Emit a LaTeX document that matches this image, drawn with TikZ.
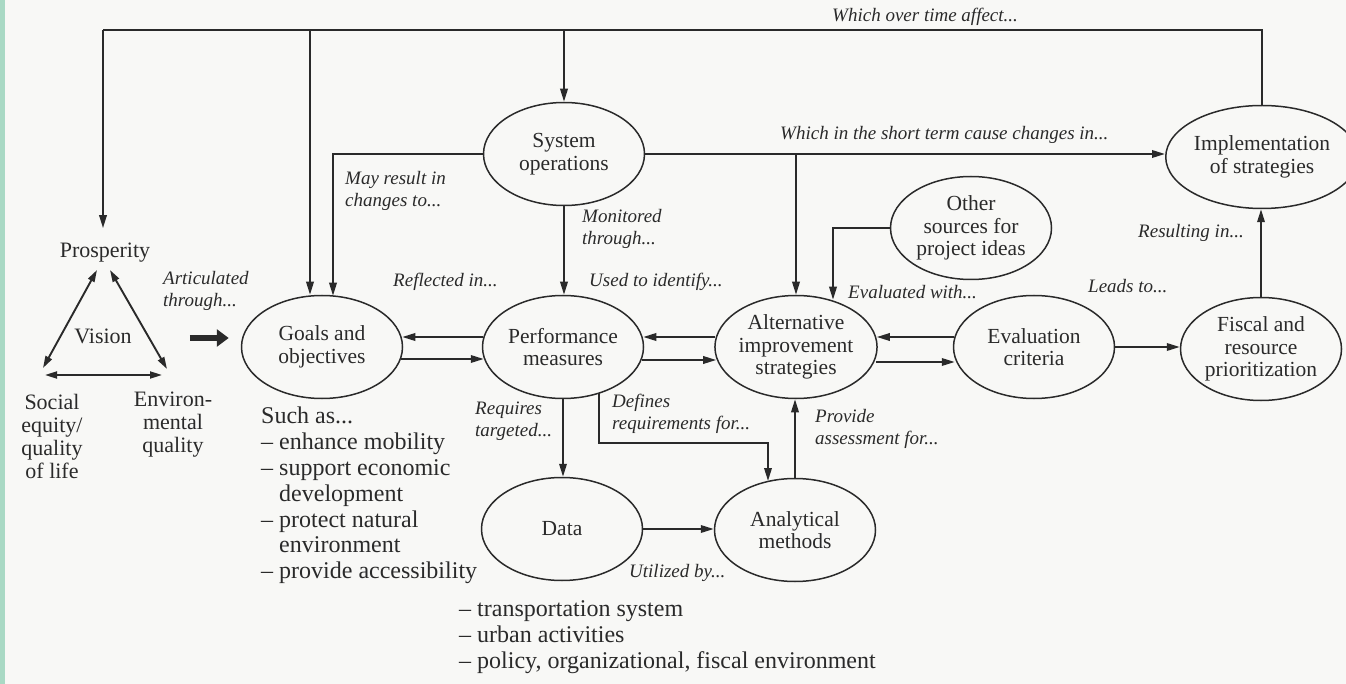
\documentclass[tikz,border=0pt]{standalone}
\usepackage{fontspec}
\setmainfont{Liberation Serif}
\usetikzlibrary{shapes.geometric,arrows.meta,calc}
\definecolor{ink}{HTML}{2A2A2A}
\definecolor{paper}{HTML}{F8F8F6}
\definecolor{mint}{HTML}{A9D9C4}
\begin{document}
\begin{tikzpicture}[x=1pt,y=-1pt,
  oval/.style={draw=ink, line width=1.5pt, ellipse, minimum width=161pt, minimum height=103pt,
    inner sep=0pt, align=center, text=ink, font=\fontsize{21.5}{22.5}\selectfont},
  lbl/.style={anchor=west, inner sep=0pt, align=left, text=ink, font=\fontsize{19}{22}\selectfont\itshape},
  txt/.style={inner sep=0pt, align=center, text=ink, font=\fontsize{22}{23}\selectfont},
  lst/.style={anchor=west, inner sep=0pt, align=left, text=ink, font=\fontsize{24}{25.8}\selectfont},
  ln/.style={draw=ink, line width=1.9pt},
  arr/.style={ln, -{Triangle[length=13pt,width=7.5pt]}},
  dbl/.style={ln, {Triangle[length=12pt,width=7pt]}-{Triangle[length=12pt,width=7pt]}},
]
\fill[paper] (0,0) rectangle (1346,684);
\fill[mint] (0,0) rectangle (5,684);
\useasboundingbox (0,0) rectangle (1346,684);

% ellipses
\node[oval] (sysop)  at (564,154) {System\\operations};
\node[oval] (goals)  at (322,347) {Goals and\\objectives};
\node[oval] (perf)   at (563,347) {Performance\\measures};
\node[oval] (alt)    at (796,347) {Alternative\\improvement\\strategies};
\node[oval] (eval)   at (1034,347) {Evaluation\\criteria};
\node[oval] (fiscal) at (1261,349) {Fiscal and\\resource\\prioritization};
\node[oval] (impl)   at (1262,157) {Implementation\\of strategies};
\node[oval] (other)  at (971,228) {Other\\sources for\\project ideas};
\node[oval] (data)   at (562,529) {Data};
\node[oval] (anal)   at (795,530) {Analytical\\methods};

% vision triangle
\node[txt] (prosp)  at (105,253) {Prosperity};
\node[txt] (vision) at (103,336) {Vision};
\node[txt] (social) at (52,436) {Social\\equity/\\quality\\of life};
\node[txt] (env)    at (173,425) {Environ-\\mental\\quality};
\draw[dbl] ($(prosp)+(-8,17)$) -- ($(social)+(-9,-68)$);
\draw[dbl] ($(prosp)+(5,17)$) -- ($(env)+(-6,-56)$);
\draw[dbl] ($(social)+(-7,-61)$) -- ($(env)+(-11,-50)$);

% lists
\node[lst] (such) at (261,495.5) {Such as...\\
– enhance mobility\\
– support economic\\
\phantom{– }development\\
– protect natural\\
\phantom{– }environment\\
– provide accessibility};
\node[lst] (dlist) at (459,637) {– transportation system\\
– urban activities\\
– policy, organizational, fiscal environment};

% top feedback loop
\coordinate (tl) at (103,30);
\coordinate (tr) at (impl.north |- tl);
\coordinate (g1) at (310,30);
\draw[ln] (impl.north) -- (tr) -- (tl);
\draw[arr, shorten >=15pt] (tl) -- (prosp.north -| tl);
\draw[arr] (g1) -- (g1 |- goals.north);
\draw[arr] (sysop.north |- tl) -- (sysop.north);

% system operations links
\draw[arr] (sysop.west) -| ($(goals.north)+(11,1)$);
\draw[arr] (sysop.east) -- (sysop.east -| impl.west);
\draw[arr] (alt.north |- sysop.east) -- (alt.north);
\draw[arr] (sysop.south) -- (sysop.south |- perf.north);
\draw[arr] (other.west) -| ($(alt.north)+(37,5)$);
\draw[arr] (fiscal.north) -- (fiscal.north |- impl.south);

% middle row
\draw[line width=6pt, draw=ink, -{Triangle[length=12pt,width=17pt]}] ($(goals.west)+(-51,-9)$) -- ($(goals.west)+(-12,-9)$);
\draw[arr] ($(perf.west)+(1,-10)$) -- ($(goals.east)+(-1,-10)$);
\draw[arr] ($(goals.east)+(-2,12)$) -- ($(perf.west)+(2,12)$);
\draw[arr] ($(alt.west)+(1,-10)$) -- ($(perf.east)+(-1,-10)$);
\draw[arr] ($(perf.east)+(-2,13)$) -- ($(alt.west)+(2,13)$);
\draw[arr] ($(eval.west)+(1,-10)$) -- ($(alt.east)+(-1,-10)$);
\draw[arr] ($(alt.east)+(-2,15)$) -- ($(eval.west)+(2,15)$);
\draw[arr] (eval.east) -- (eval.east -| fiscal.west);

% lower part
\draw[arr] (perf.south) -- (perf.south |- data.north);
\draw[arr] ($(perf.center)+(36,46)$) -- ++(0,50) -| ($(anal.center)+(-27,-49)$);
\draw[arr] (anal.north) -- (anal.north |- alt.south);
\draw[arr] (data.east) -- (data.east -| anal.west);

% labels
\node[lbl] (l1)  at (832,17)  {Which over time affect...};
\node[lbl] (l2)  at (780,135) {Which in the short term cause changes in...};
\node[lbl] (l3)  at (345,191) {May result in\\changes to...};
\node[lbl] (l4)  at (582,229) {Monitored\\through...};
\node[lbl] (l5)  at (163,291) {Articulated\\through...};
\node[lbl] (l6)  at (393,282) {Reflected in...};
\node[lbl] (l7)  at (589,282) {Used to identify...};
\node[lbl] (l8)  at (848,292) {Evaluated with...};
\node[lbl] (l9)  at (1088,286) {Leads to...};
\node[lbl] (l10) at (1138,233) {Resulting in...};
\node[lbl] (l11) at (475,421) {Requires\\targeted...};
\node[lbl] (l12) at (612,414) {Defines\\requirements for...};
\node[lbl] (l13) at (815,429) {Provide\\assessment for...};
\node[lbl] (l14) at (629,573) {Utilized by...};
\end{tikzpicture}
\end{document}
